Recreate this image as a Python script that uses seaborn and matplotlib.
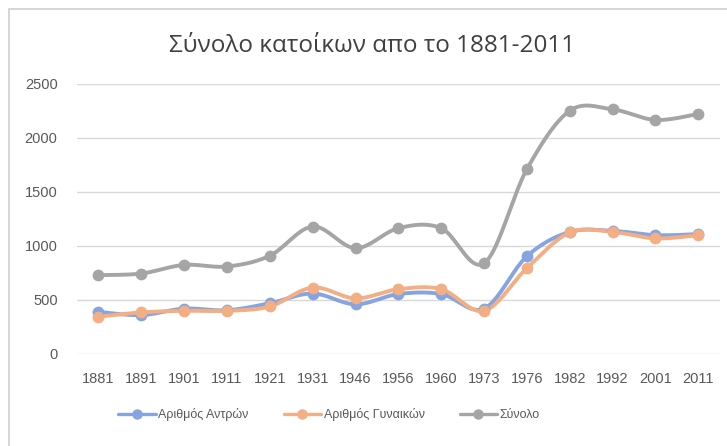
import numpy as np
import pandas as pd
import matplotlib
matplotlib.use("Agg")
import matplotlib.pyplot as plt
from matplotlib.lines import Line2D
from matplotlib.patches import Rectangle
import seaborn as sns

years = ["1881", "1891", "1901", "1911", "1921", "1931", "1946", "1956",
         "1960", "1973", "1976", "1982", "1992", "2001", "2011"]
men = [390, 360, 420, 405, 470, 560, 460, 555, 555, 420, 905, 1130, 1140, 1100, 1110]
women = [345, 385, 400, 400, 440, 615, 515, 600, 600, 400, 795, 1125, 1130, 1070, 1100]
total = [730, 745, 825, 810, 910, 1180, 980, 1165, 1165, 840, 1712, 2252, 2265, 2167, 2222]

labels = ["Αριθμός Αντρών", "Αριθμός Γυναικών", "Σύνολο"]
colors = ["#86a5e0", "#f4ae84", "#a5a5a5"]

sns.set_theme(style="white")
plt.rcParams["font.family"] = ["Liberation Sans", "DejaVu Sans"]


def smooth(y, n=24):
    # catmull-rom style curve through the points, like excel's smoothed lines
    y = np.asarray(y, dtype=float)
    x = np.arange(len(y), dtype=float)
    xp = np.concatenate([[x[0]], x, [x[-1]]])
    yp = np.concatenate([[y[0]], y, [y[-1]]])
    xs, ys = [], []
    for i in range(len(y) - 1):
        p0, p1, p2, p3 = (np.array([xp[i + k], yp[i + k]]) for k in range(4))
        c1 = p1 + (p2 - p0) / 6
        c2 = p2 - (p3 - p1) / 6
        t = np.linspace(0, 1, n)[:, None]
        pts = ((1 - t) ** 3) * p1 + 3 * ((1 - t) ** 2) * t * c1 + 3 * (1 - t) * t ** 2 * c2 + t ** 3 * p2
        xs.extend(pts[:, 0])
        ys.extend(pts[:, 1])
    return np.array(xs), np.array(ys)


fig = plt.figure(figsize=(7.27, 4.46), dpi=100)
fig.patches.append(Rectangle((9 / 727, -0.05), 1.1, 1 - 9 / 446 + 0.05,
                             transform=fig.transFigure, fill=False,
                             edgecolor="#d0d0d0", linewidth=1.2))
ax = fig.add_axes([0.106, 0.2063, 0.884, 0.6054])

handles = []
for vals, col, lab in zip([men, women, total], colors, labels):
    sx, sy = smooth(vals)
    sns.lineplot(x=sx, y=sy, ax=ax, color=col, linewidth=2.8, sort=False,
                 estimator=None, legend=False)
    df = pd.DataFrame({"x": np.arange(len(vals)), "y": vals})
    sns.scatterplot(data=df, x="x", y="y", ax=ax, color=col, s=72,
                    edgecolor=col, linewidth=0, zorder=3, legend=False)
    handles.append(Line2D([0], [0], color=col, lw=2.4, marker="o",
                          markersize=6.5, label=lab))

ax.set_xlim(-0.5, len(years) - 0.5)
ax.set_ylim(0, 2500)
ax.set_yticks(range(0, 2501, 500))
ax.set_xticks(range(len(years)))
ax.set_xticklabels(years)
ax.yaxis.grid(True, color="#d9d9d9", linewidth=1)
ax.set_axisbelow(True)
for s in ax.spines.values():
    s.set_visible(False)
ax.tick_params(axis="both", length=0, labelsize=10.5, labelcolor="#595959")
ax.tick_params(axis="y", pad=14)
ax.tick_params(axis="x", pad=13)
ax.set_xlabel("")
ax.set_ylabel("")

fig.text(0.512, 0.897, "Σύνολο κατοίκων απο το 1881-2011", ha="center", va="center",
         fontsize=17.5, color="#404040", family=["Open Sans", "DejaVu Sans"])

fig.legend(handles=handles, loc="center", bbox_to_anchor=(0.4525, 0.07), ncol=3,
           frameon=False, fontsize=9, handlelength=3.0, columnspacing=2.8,
           handletextpad=0.2, labelcolor="#595959")

fig.savefig("out.png", dpi=100)
